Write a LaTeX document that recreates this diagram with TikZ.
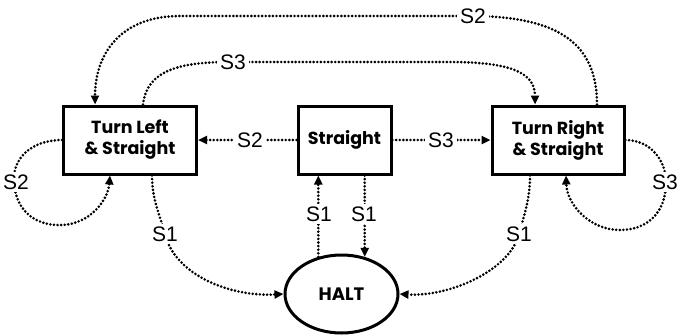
\documentclass[tikz,border=0pt]{standalone}
\usepackage{fontspec}
\setmainfont{Liberation Sans}
\newfontfamily\boxfont{Poppins}
\usetikzlibrary{arrows.meta,shapes.geometric,calc}
\begin{document}
\begin{tikzpicture}[x=1pt,y=-1pt,
  state/.style={draw,line width=3pt,minimum height=68pt,align=center,
    font=\boxfont\bfseries\fontsize{17.5}{21}\selectfont,inner sep=0pt},
  haltnode/.style={draw,ellipse,line width=3pt,minimum width=113pt,minimum height=78pt,
    inner sep=0pt,font=\boxfont\bfseries\fontsize{18}{21}\selectfont},
  conn/.style={line width=2.9pt,line cap=round,dash pattern=on 0pt off 3.6pt,
    -{Triangle[length=9pt,width=8pt]}},
  lbl/.style={fill=white,font=\fontsize{21}{21}\selectfont,inner sep=3pt}]
\useasboundingbox (0,0) rectangle (679,335);

\node[state,minimum width=133pt] (L) at (130,140) {Turn Left\\\& Straight};
\node[state,minimum width=93pt] (S) at (344.5,140) {Straight};
\node[state,minimum width=132pt] (R) at (558,140) {Turn Right\\\& Straight};
\node[haltnode] (H) at (341.5,294) {HALT};

% R -> L over the top (S2)
\draw[conn] ($(R.north)+(39,0)$) .. controls ($(R.north)+(39,-60)$) and (560,16) .. (470,16)
  -- (180,16) .. controls (120,16) and ($(L.north)+(-35,-50)$) .. ($(L.north)+(-35,0)$);
% L -> R (S3)
\draw[conn] ($(L.north)+(13,0)$) .. controls (147,70) and (180,62) .. (230,62)
  -- (450,62) .. controls (515,62) and ($(R.north)+(-23,-30)$) .. ($(R.north)+(-23,0)$);
% S -> L, S -> R
\draw[conn] (S.west) -- (L.east);
\draw[conn] (S.east) -- (R.west);
% self loops
\draw[conn] (L.west) .. controls (30,140) and (12,160) .. (14,182)
  .. controls (16,215) and (40,226) .. (62,225)
  .. controls (90,224) and (108,200) .. ($(L.south)+(-20,0)$);
\draw[conn] (R.east) .. controls (650,140) and (666,160) .. (666,182)
  .. controls (666,215) and (645,230) .. (620,230)
  .. controls (590,230) and (567,205) .. ($(R.south)+(8,0)$);
% to HALT
\draw[conn] ($(L.south)+(22,0)$) .. controls (152,200) and (160,215) .. (165,234)
  .. controls (175,275) and (230,297) .. (H.west);
\draw[conn] ($(R.south)+(-28,0)$) .. controls (530,200) and (524,215) .. (519,234)
  .. controls (510,270) and (450,297) .. (H.east);
\draw[conn] (H.122) -- (H.122 |- S.south);
\draw[conn] (H.58 |- S.south) -- (H.58);

% labels
\node[lbl] (t1) at (473,16) {S2};
\node[lbl] (t2) at (233,62) {S3};
\node[lbl] (t3) at (250,140) {S2};
\node[lbl] (t4) at (441,140) {S3};
\node[lbl] (t5) at (16,182) {S2};
\node[lbl] (t6) at (665,182) {S3};
\node[lbl] (t7) at (165,234) {S1};
\node[lbl] (t8) at (519,234) {S1};
\node[lbl] (t9) at (319,214) {S1};
\node[lbl] (t10) at (364,214) {S1};
\end{tikzpicture}
\end{document}
